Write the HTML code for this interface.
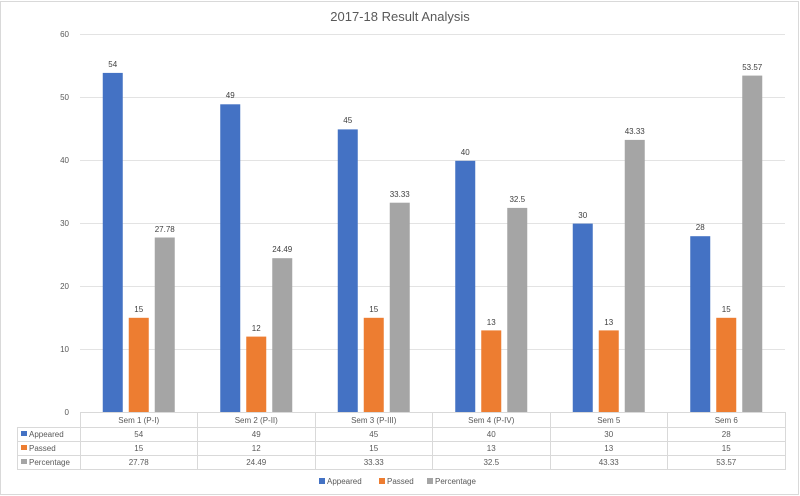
<!DOCTYPE html>
<html><head><meta charset="utf-8"><style>
html,body{margin:0;padding:0;background:#fff}
svg{display:block;font-family:"Liberation Sans",sans-serif}
</style></head><body>
<svg width="800" height="496" viewBox="0 0 800 496" xmlns="http://www.w3.org/2000/svg">
<rect x="0.5" y="1.5" width="798" height="493" fill="#fff" stroke="#d9d9d9"/>
<text x="400" y="21" text-anchor="middle" font-size="13" fill="#595959">2017-18 Result Analysis</text>
<g stroke="#e3e3e3" stroke-width="1">
<line x1="80" y1="34.5" x2="785" y2="34.5"/>
<line x1="80" y1="97.5" x2="785" y2="97.5"/>
<line x1="80" y1="160.5" x2="785" y2="160.5"/>
<line x1="80" y1="223.5" x2="785" y2="223.5"/>
<line x1="80" y1="286.5" x2="785" y2="286.5"/>
<line x1="80" y1="349.5" x2="785" y2="349.5"/>
</g>
<g font-size="8" fill="#595959" text-anchor="end">
<text x="69" y="37">60</text><text x="69" y="100">50</text><text x="69" y="163">40</text>
<text x="69" y="226">30</text><text x="69" y="289">20</text><text x="69" y="352">10</text><text x="69" y="415">0</text>
</g>
<g id="bars"></g>
<g font-size="8" fill="#404040" text-anchor="middle">
<!-- sem1 -->
<rect x="102.75" y="72.9" width="20" height="339.1" fill="#4472c4"/><text x="112.75" y="67">54</text>
<rect x="128.75" y="317.8" width="20" height="94.2" fill="#ed7d31"/><text x="138.75" y="312">15</text>
<rect x="154.75" y="237.5" width="20" height="174.5" fill="#a5a5a5"/><text x="164.75" y="232">27.78</text>
<!-- sem2 -->
<rect x="220.25" y="104.3" width="20" height="307.7" fill="#4472c4"/><text x="230.25" y="98">49</text>
<rect x="246.25" y="336.6" width="20" height="75.4" fill="#ed7d31"/><text x="256.25" y="331">12</text>
<rect x="272.25" y="258.2" width="20" height="153.8" fill="#a5a5a5"/><text x="282.25" y="252">24.49</text>
<!-- sem3 -->
<rect x="337.75" y="129.4" width="20" height="282.6" fill="#4472c4"/><text x="347.75" y="123">45</text>
<rect x="363.75" y="317.8" width="20" height="94.2" fill="#ed7d31"/><text x="373.75" y="312">15</text>
<rect x="389.75" y="202.7" width="20" height="209.3" fill="#a5a5a5"/><text x="399.75" y="197">33.33</text>
<!-- sem4 -->
<rect x="455.25" y="160.8" width="20" height="251.2" fill="#4472c4"/><text x="465.25" y="155">40</text>
<rect x="481.25" y="330.4" width="20" height="81.6" fill="#ed7d31"/><text x="491.25" y="325">13</text>
<rect x="507.25" y="207.9" width="20" height="204.1" fill="#a5a5a5"/><text x="517.25" y="202">32.5</text>
<!-- sem5 -->
<rect x="572.75" y="223.6" width="20" height="188.4" fill="#4472c4"/><text x="582.75" y="218">30</text>
<rect x="598.75" y="330.4" width="20" height="81.6" fill="#ed7d31"/><text x="608.75" y="325">13</text>
<rect x="624.75" y="139.9" width="20" height="272.1" fill="#a5a5a5"/><text x="634.75" y="134">43.33</text>
<!-- sem6 -->
<rect x="690.25" y="236.2" width="20" height="175.8" fill="#4472c4"/><text x="700.25" y="230">28</text>
<rect x="716.25" y="317.8" width="20" height="94.2" fill="#ed7d31"/><text x="726.25" y="312">15</text>
<rect x="742.25" y="75.6" width="20" height="336.4" fill="#a5a5a5"/><text x="752.25" y="70">53.57</text>
</g>
<!-- table -->
<g stroke="#d9d9d9" stroke-width="1" fill="none">
<line x1="80" y1="412.5" x2="785" y2="412.5"/>
<line x1="17" y1="427.5" x2="785" y2="427.5"/>
<line x1="17" y1="441.5" x2="785" y2="441.5"/>
<line x1="17" y1="455.5" x2="785" y2="455.5"/>
<line x1="17" y1="469.5" x2="785" y2="469.5"/>
<line x1="17.5" y1="427" x2="17.5" y2="470"/>
<line x1="80.5" y1="412" x2="80.5" y2="470"/>
<line x1="197.5" y1="412" x2="197.5" y2="470"/>
<line x1="315.5" y1="412" x2="315.5" y2="470"/>
<line x1="432.5" y1="412" x2="432.5" y2="470"/>
<line x1="550.5" y1="412" x2="550.5" y2="470"/>
<line x1="667.5" y1="412" x2="667.5" y2="470"/>
<line x1="785.5" y1="412" x2="785.5" y2="470"/>
</g>
<g font-size="8" fill="#595959" text-anchor="middle">
<text x="138.75" y="423">Sem 1 (P-I)</text><text x="256.25" y="423">Sem 2 (P-II)</text><text x="373.75" y="423">Sem 3 (P-III)</text>
<text x="491.25" y="423">Sem 4 (P-IV)</text><text x="608.75" y="423">Sem 5</text><text x="726.25" y="423">Sem 6</text>
<text x="138.75" y="437">54</text><text x="256.25" y="437">49</text><text x="373.75" y="437">45</text><text x="491.25" y="437">40</text><text x="608.75" y="437">30</text><text x="726.25" y="437">28</text>
<text x="138.75" y="451">15</text><text x="256.25" y="451">12</text><text x="373.75" y="451">15</text><text x="491.25" y="451">13</text><text x="608.75" y="451">13</text><text x="726.25" y="451">15</text>
<text x="138.75" y="465">27.78</text><text x="256.25" y="465">24.49</text><text x="373.75" y="465">33.33</text><text x="491.25" y="465">32.5</text><text x="608.75" y="465">43.33</text><text x="726.25" y="465">53.57</text>
</g>
<g font-size="8" fill="#595959">
<rect x="21" y="431" width="6" height="5" fill="#4472c4"/><text x="29" y="437">Appeared</text>
<rect x="21" y="445" width="6" height="5" fill="#ed7d31"/><text x="29" y="451">Passed</text>
<rect x="21" y="459" width="6" height="5" fill="#a5a5a5"/><text x="29" y="465">Percentage</text>
<rect x="319" y="478" width="6" height="6" fill="#4472c4"/><text x="327" y="484">Appeared</text>
<rect x="379" y="478" width="6" height="6" fill="#ed7d31"/><text x="387" y="484">Passed</text>
<rect x="427" y="478" width="6" height="6" fill="#a5a5a5"/><text x="435" y="484">Percentage</text>
</g>
</svg>
</body></html>
